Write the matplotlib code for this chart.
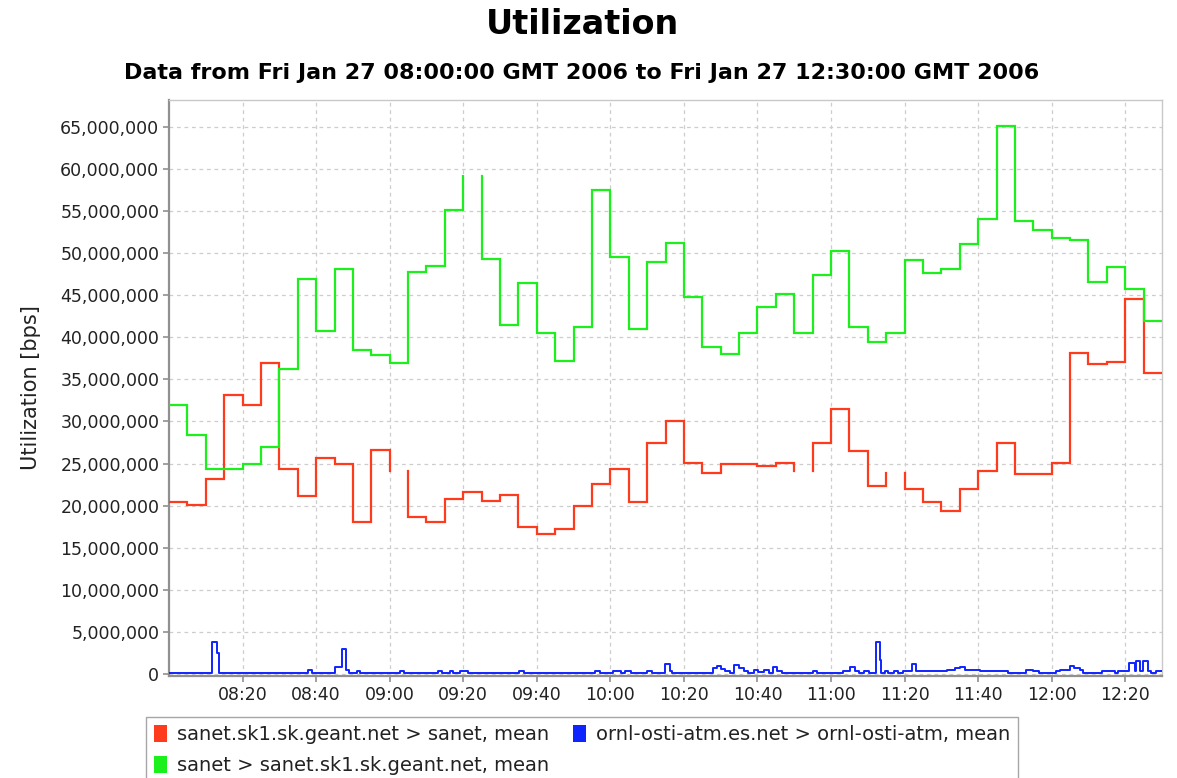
import numpy as np
import matplotlib
matplotlib.use("Agg")
import matplotlib.pyplot as plt
from matplotlib.patches import Patch
from matplotlib.ticker import FuncFormatter, MultipleLocator

# ---- data (minutes after 08:00, values in Mbps) ----
step_times = list(range(0, 270, 5))
red_vals = [20.4, 20.1, 23.2, 33.1, 31.9, 36.9, 24.4, 21.1, 25.6, 24.9,
            18.0, 26.6, 24.1, 18.7, 18.0, 20.8, 21.6, 20.6, 21.3, 17.46,
            16.66, 17.26, 19.9, 22.6, 24.4, 20.4, 27.4, 30.1, 25.1, 23.9,
            24.9, 24.9, 24.7, 25.1, 24.1, 27.4, 31.5, 26.5, 22.3, 23.9,
            22.0, 20.4, 19.4, 22.0, 24.1, 27.4, 23.7, 23.7, 25.06, 38.1,
            36.8, 37.1, 44.5, 35.8]
red_gaps = [12, 34, 39]
green_vals = [32.0, 28.4, 24.4, 24.4, 24.9, 27.0, 36.2, 46.9, 40.7, 48.1,
              38.5, 37.9, 37.0, 47.8, 48.5, 55.1, 59.2, 49.3, 41.5, 46.4,
              40.5, 37.2, 41.2, 57.5, 49.5, 41.0, 49.0, 51.2, 44.8, 38.8,
              38.0, 40.5, 43.6, 45.2, 40.5, 47.4, 50.3, 41.2, 39.5, 40.5,
              49.2, 47.6, 48.1, 51.1, 54.0, 65.1, 53.8, 52.8, 51.8, 51.6,
              46.6, 48.3, 45.7, 41.9]
green_gaps = [16]
blue_t = [0, 11.7, 13.0, 13.6, 37.8, 39.0, 45.0, 47.0, 48.2, 49.0, 51.0, 52.0,
          62.7, 64.0, 73.2, 74.3, 76.3, 77.2, 79.0, 81.2, 95.3, 96.5, 115.8,
          117.1, 120.8, 122.8, 124.0, 125.7, 130.0, 131.2, 134.9, 136.2, 136.9,
          148.0, 149.0, 150.0, 151.3, 152.5, 153.7, 155.0, 156.3, 157.3, 159.0,
          160.1, 161.9, 163.2, 164.1, 165.3, 166.6, 175.0, 176.2, 183.2, 185.2,
          186.4, 187.5, 189.1, 190.4, 192.2, 193.2, 193.7, 194.6, 195.5, 197.2,
          198.2, 199.5, 202.0, 203.2, 211.5, 213.6, 215.0, 216.3, 217.2, 220.6,
          228.1, 232.9, 234.9, 236.6, 241.3, 242.4, 244.9, 246.2, 247.6, 248.5,
          253.7, 257.2, 258.1, 261.1, 262.6, 263.0, 264.0, 264.8, 266.2, 267.1,
          268.5, 270.0]
blue_v = [0.05, 3.8, 2.5, 0.05, 0.5, 0.05, 0.8, 2.9, 0.5, 0.05, 0.35, 0.05,
          0.35, 0.05, 0.35, 0.05, 0.35, 0.05, 0.35, 0.05, 0.3, 0.05, 0.3,
          0.05, 0.3, 0.05, 0.3, 0.05, 0.3, 0.05, 1.2, 0.3, 0.05,
          0.7, 0.95, 0.6, 0.3, 0.05, 1.0, 0.7, 0.35, 0.05, 0.5,
          0.25, 0.5, 0.05, 0.8, 0.35, 0.05, 0.3, 0.05, 0.3, 0.8,
          0.3, 0.05, 0.3, 0.05, 3.8, 1.7, 0.05, 0.3, 0.05, 0.3,
          0.05, 0.3, 1.2, 0.35, 0.5, 0.75, 0.85, 0.5, 0.45, 0.3,
          0.05, 0.5, 0.3, 0.05, 0.3, 0.5, 0.9, 0.7, 0.45, 0.05,
          0.3, 0.05, 0.3, 1.3, 0.3, 1.5, 0.4, 1.5, 0.3, 0.05,
          0.3, 0.3]
x_tick_minutes = list(range(20, 270, 20))
x_tick_labels = ["08:20", "08:40", "09:00", "09:20", "09:40", "10:00", "10:20",
                 "10:40", "11:00", "11:20", "11:40", "12:00", "12:20"]
series_labels = ["sanet.sk1.sk.geant.net > sanet, mean",
                 "ornl-osti-atm.es.net > ornl-osti-atm, mean",
                 "sanet > sanet.sk1.sk.geant.net, mean"]
t_end = 270

RED = "#ff3b1e"
GREEN = "#1cf01c"
BLUE = "#1024ff"


def step_vertices(t, v, gaps, end):
    xs, ys = [], []
    n = len(t)
    for i in range(n):
        a = t[i]
        b = t[i + 1] if i + 1 < n else end
        xs.append(a); ys.append(v[i] * 1e6)
        if i in gaps:
            xs.append(np.nan); ys.append(np.nan)
        xs.append(b); ys.append(v[i] * 1e6)
    return xs, ys


fig = plt.figure(figsize=(11.77, 7.78), dpi=100)
ax = fig.add_axes([169 / 1177, 1 - 676 / 778, (1162 - 169) / 1177, (676 - 100) / 778])

rx, ry = step_vertices(step_times, red_vals, red_gaps, t_end)
gx, gy = step_vertices(step_times, green_vals, green_gaps, t_end)
ax.plot(rx, ry, color=RED, lw=1.6, zorder=3, solid_joinstyle="miter")
ax.step(blue_t, [b * 1e6 for b in blue_v], where="post", color=BLUE, lw=1.4, zorder=4)
ax.plot(gx, gy, color=GREEN, lw=1.6, zorder=5, solid_joinstyle="miter")

ax.set_xlim(0, t_end)
ax.set_ylim(-0.25e6, 68.2e6)
ax.yaxis.set_major_locator(MultipleLocator(5e6))
ax.yaxis.set_major_formatter(FuncFormatter(lambda v, p: f"{int(round(v)):,}"))
ax.set_xticks(x_tick_minutes)
ax.set_xticklabels(x_tick_labels)

ax.grid(True, color="#cdcdcd", linestyle=(0, (3, 3)), linewidth=0.9)
ax.set_axisbelow(True)
for s in ["top", "right"]:
    ax.spines[s].set_color("#c8c8c8")
    ax.spines[s].set_linewidth(1.0)
for s in ["left", "bottom"]:
    ax.spines[s].set_color("#909090")
    ax.spines[s].set_linewidth(1.6)
ax.tick_params(axis="both", direction="out", length=4, width=1.2, color="#909090",
               labelsize=12.5, labelcolor="#222222", pad=3)

ax.set_ylabel("Utilization [bps]", fontsize=15, color="#222222", labelpad=14)

fig.text(0.4945, 1 - 25 / 778, "Utilization", ha="center", va="center",
         fontsize=24, fontweight="bold", color="black")
fig.text(0.4945, 1 - 73 / 778,
         "Data from Fri Jan 27 08:00:00 GMT 2006 to Fri Jan 27 12:30:00 GMT 2006",
         ha="center", va="center", fontsize=16, fontweight="bold", color="black")

handles = [Patch(facecolor=RED, edgecolor="none", label=series_labels[0]),
           Patch(facecolor=GREEN, edgecolor="none", label=series_labels[2]),
           Patch(facecolor=BLUE, edgecolor="none", label=series_labels[1])]
leg = fig.legend(handles=handles, loc="upper center", bbox_to_anchor=(0.4945, 1 - 717 / 778),
                 ncol=2, frameon=True, fancybox=False, fontsize=14,
                 handlelength=0.7, handleheight=1.0, handletextpad=0.5,
                 columnspacing=1.2, borderpad=0.4, labelspacing=0.6, borderaxespad=0)
leg.get_frame().set_edgecolor("#909090")
leg.get_frame().set_linewidth(1.0)
for t in leg.get_texts():
    t.set_color("#222222")

fig.savefig("out.png", dpi=100)
